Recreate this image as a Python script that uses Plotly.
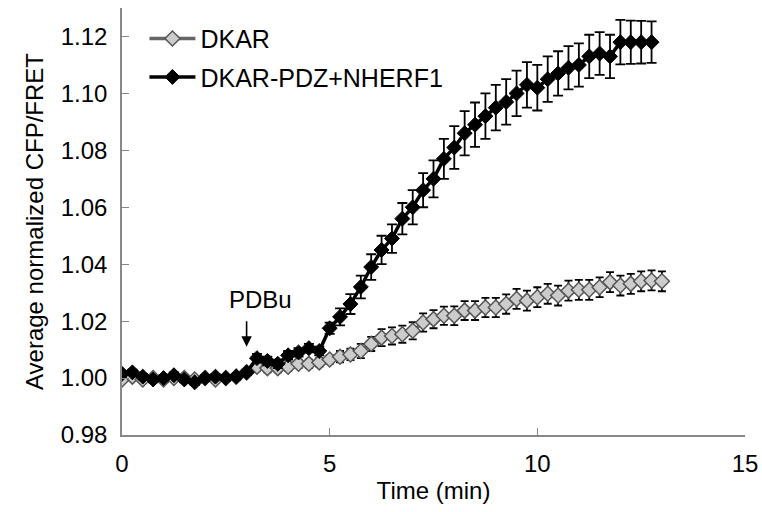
import plotly.graph_objects as go

# ---------------- data ----------------
t_pdz = [0, 0.25, 0.5, 0.75, 1.0, 1.25, 1.5, 1.75, 2.0, 2.25, 2.5, 2.75,
         3.0, 3.25, 3.5, 3.75, 4.0, 4.25, 4.5, 4.75, 5.0, 5.25, 5.5, 5.75,
         6.0, 6.25, 6.5, 6.75, 7.0, 7.25, 7.5, 7.75, 8.0, 8.25, 8.5, 8.75,
         9.0, 9.25, 9.5, 9.75, 10.0, 10.25, 10.5, 10.75, 11.0, 11.25, 11.5,
         11.75, 12.0, 12.25, 12.5, 12.75]
y_pdz = [1.0015, 1.002, 1.0005, 0.9995, 1.000, 1.001, 0.9995, 0.9985, 1.000,
         1.0005, 1.000, 1.0005, 1.002, 1.007, 1.006, 1.005, 1.008, 1.009,
         1.0105, 1.0095, 1.0175, 1.0215, 1.026, 1.032, 1.039, 1.045, 1.049,
         1.056, 1.060, 1.066, 1.070, 1.077, 1.081, 1.086, 1.089, 1.092, 1.095,
         1.097, 1.100, 1.103, 1.102, 1.105, 1.107, 1.109, 1.110, 1.113, 1.114,
         1.113, 1.118, 1.118, 1.118, 1.118]
e_pdz = [0.001, 0.001, 0.001, 0.001, 0.001, 0.001, 0.001, 0.001, 0.001,
         0.001, 0.001, 0.001, 0.001, 0.0015, 0.0015, 0.0015, 0.0015, 0.0015,
         0.0015, 0.0015, 0.002, 0.003, 0.0035, 0.004, 0.0045, 0.005, 0.005,
         0.0055, 0.006, 0.006, 0.0065, 0.007, 0.0075, 0.0078, 0.0078, 0.008,
         0.008, 0.008, 0.008, 0.008, 0.008, 0.008, 0.0078, 0.0076, 0.0076,
         0.0076, 0.0075, 0.0076, 0.0078, 0.0076, 0.0075, 0.0073]

t_dkar = [0, 0.25, 0.5, 0.75, 1.0, 1.25, 1.5, 1.75, 2.0, 2.25, 2.5, 2.75,
          3.0, 3.25, 3.5, 3.75, 4.0, 4.25, 4.5, 4.75, 5.0, 5.25, 5.5, 5.75,
          6.0, 6.25, 6.5, 6.75, 7.0, 7.25, 7.5, 7.75, 8.0, 8.25, 8.5, 8.75,
          9.0, 9.25, 9.5, 9.75, 10.0, 10.25, 10.5, 10.75, 11.0, 11.25, 11.5,
          11.75, 12.0, 12.25, 12.5, 12.75, 13.0]
y_dkar = [0.9995, 1.0005, 0.9995, 1.000, 0.9995, 1.000, 1.000, 0.9995, 1.000,
          0.9995, 1.000, 1.0005, 1.002, 1.004, 1.0035, 1.0035, 1.004, 1.005,
          1.005, 1.0055, 1.0065, 1.0075, 1.0083, 1.0095, 1.012, 1.0142,
          1.0148, 1.0154, 1.0166, 1.0195, 1.0207, 1.0219, 1.0219, 1.0237,
          1.0237, 1.0248, 1.0248, 1.026, 1.0278, 1.0272, 1.0284, 1.0296,
          1.029, 1.0307, 1.031, 1.031, 1.0319, 1.0337, 1.0325, 1.0331, 1.034,
          1.0343, 1.034]
e_dkar = [0.001, 0.001, 0.001, 0.001, 0.001, 0.001, 0.001, 0.001, 0.001,
          0.001, 0.001, 0.001, 0.001, 0.0015, 0.0015, 0.0015, 0.0015, 0.0015,
          0.0015, 0.0015, 0.0015, 0.002, 0.002, 0.0025, 0.0025, 0.003, 0.003,
          0.003, 0.003, 0.0032, 0.0032, 0.0032, 0.0033, 0.0033, 0.0033,
          0.0034, 0.0034, 0.0034, 0.0035, 0.0035, 0.0035, 0.0035, 0.0035,
          0.0035, 0.0035, 0.0035, 0.0035, 0.0035, 0.0035, 0.0035, 0.0035,
          0.0035, 0.0035]

series_names = ["DKAR", "DKAR-PDZ+NHERF1"]
x_ticks = [0, 5, 10, 15]
y_ticks = [0.98, 1.00, 1.02, 1.04, 1.06, 1.08, 1.10, 1.12]
pdbu_time = 3.0
pdbu_level = 1.011

FONT = "Liberation Sans, Arial, sans-serif"
FS = 24

fig = go.Figure()
fig.add_trace(go.Scatter(
    x=t_dkar, y=y_dkar, name=series_names[0], mode="lines+markers",
    legendgroup="g1",
    line=dict(color="#666666", width=3.5),
    marker=dict(symbol="diamond", size=11.5, color="#cccccc",
                line=dict(color="#555555", width=1.5)),
    error_y=dict(type="data", array=e_dkar, visible=True, color="black",
                 thickness=1.8, width=4),
))
fig.add_trace(go.Scatter(
    x=t_pdz, y=y_pdz, name=series_names[1], mode="lines+markers",
    legendgroup="g2",
    line=dict(color="black", width=3.5),
    marker=dict(symbol="diamond", size=11.5, color="black",
                line=dict(color="black", width=1)),
    error_y=dict(type="data", array=e_pdz, visible=True, color="black",
                 thickness=1.8, width=5),
))

# PDBu arrow + label
fig.add_annotation(x=pdbu_time, y=pdbu_level, xref="x", yref="y", text="",
                   showarrow=True, ax=0, ay=-27, arrowhead=2, arrowsize=1.3,
                   arrowwidth=1.6, arrowcolor="black", standoff=0)
fig.add_annotation(x=pdbu_time, y=pdbu_level, xref="x", yref="y",
                   text="PDBu", showarrow=False, xshift=14, yshift=47,
                   font=dict(family=FONT, size=FS, color="black"))

axis_common = dict(
    showline=True, linecolor="#888888", linewidth=1.5,
    ticks="inside", tickcolor="#888888", ticklen=7, tickwidth=1.2,
    showgrid=False, zeroline=False,
    tickfont=dict(family=FONT, size=FS, color="black"),
)
fig.update_xaxes(range=[0, 15], tickvals=x_ticks, ticklabelstandoff=6,
                 title=dict(text="Time (min)", standoff=7,
                            font=dict(family=FONT, size=FS, color="black")),
                 **axis_common)
fig.update_yaxes(range=[0.98, 1.13], tickvals=y_ticks, tickformat=".2f",
                 ticklabelstandoff=8,
                 title=dict(text="Average normalized CFP/FRET", standoff=10,
                            font=dict(family=FONT, size=FS, color="black")),
                 **axis_common)

fig.update_layout(
    width=762, height=512,
    margin=dict(l=122, r=17, t=8, b=77, autoexpand=False),
    paper_bgcolor="white", plot_bgcolor="white",
    font=dict(family=FONT, size=FS, color="black"),
    showlegend=True,
    legend=dict(x=0.036, y=0.982, xanchor="left", yanchor="top",
                bgcolor="rgba(0,0,0,0)", itemwidth=46,
                font=dict(family=FONT, size=25, color="black"),
                tracegroupgap=3),
)

fig.write_html("out.html", config={"displayModeBar": False},
               post_script="document.body.style.margin='0';"
                           "document.body.style.overflow='hidden';")
